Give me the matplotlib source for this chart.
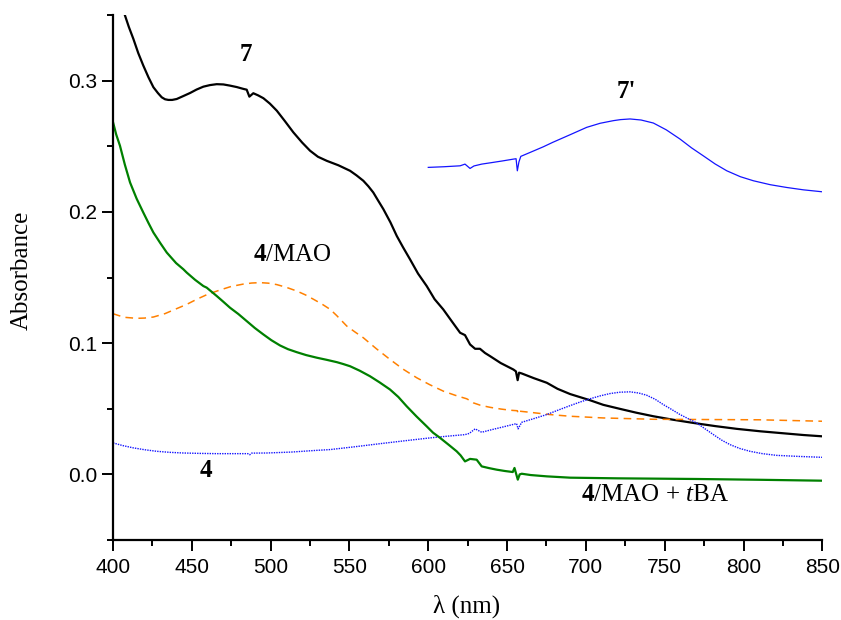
import matplotlib
matplotlib.use("Agg")
import matplotlib.pyplot as plt
from matplotlib.ticker import MultipleLocator

plt.rcParams['mathtext.fontset'] = 'custom'
plt.rcParams['mathtext.rm'] = 'Liberation Serif'
plt.rcParams['mathtext.bf'] = 'Liberation Serif:bold'
plt.rcParams['mathtext.it'] = 'Liberation Serif:italic'

# Spectrum of 7
wl_7 = [400, 404, 407.6, 410, 412.9, 416, 419.2, 422.5, 425.6, 428.5, 430.9, 433, 435.1,
        437.5, 440.4, 444.5, 448.9, 453, 457.3, 461.5, 465.8, 470, 474.2, 478.5, 482.7,
        484.8, 486.5, 489, 492, 495.4, 499.5, 503.9, 509, 514.4, 520, 525, 530, 535.6,
        543, 550.4, 554.5, 558.8, 562, 565.1, 568, 571.5, 576, 580, 584, 588.4, 593.5,
        599, 604, 609.5, 615, 620.2, 623.3, 626.5, 629.7, 632.8, 636, 639.2, 646, 654,
        655.6, 656.7, 657.6, 659.3, 667, 675.2, 682, 690, 702.6, 711, 721.7, 732, 742.8,
        755, 768.2, 782, 795.7, 811, 827.4, 838, 850]
abs_7 = [0.377, 0.362, 0.3496, 0.341, 0.3318, 0.321, 0.3115, 0.3025, 0.295, 0.2905,
         0.2873, 0.2858, 0.2853, 0.2853, 0.286, 0.2882, 0.2906, 0.2932, 0.2954, 0.2966,
         0.2973, 0.2971, 0.2962, 0.2951, 0.2937, 0.2931, 0.2878, 0.2904, 0.2888, 0.2866,
         0.2825, 0.2771, 0.2692, 0.2606, 0.2528, 0.2466, 0.242, 0.2389, 0.2355, 0.2313,
         0.2278, 0.2237, 0.2195, 0.2148, 0.209, 0.2021, 0.192, 0.1817, 0.173, 0.1639,
         0.153, 0.1435, 0.1335, 0.1257, 0.1165, 0.1079, 0.1061, 0.099, 0.0957, 0.0957,
         0.0925, 0.0901, 0.0848, 0.0799, 0.0785, 0.0718, 0.0775, 0.0769, 0.0733, 0.0698,
         0.0652, 0.0612, 0.0565, 0.053, 0.0499, 0.047, 0.0443, 0.0417, 0.0392, 0.0368,
         0.0347, 0.0328, 0.0311, 0.03, 0.029]

# Spectrum of 7'
wl_7p = [600, 610, 620.2, 623.3, 626.5, 629, 633.9, 640, 647, 654, 655.7, 656.5, 657.5,
         658.7, 665, 673, 679, 690, 700.5, 709, 717.4, 722, 728, 735, 742.8, 751, 759.7,
         767, 774.5, 782, 789.4, 798, 806.3, 817, 827.4, 838, 850]
abs_7p = [0.2339, 0.2344, 0.2351, 0.2364, 0.2331, 0.235, 0.2364, 0.2375, 0.2388, 0.2402,
          0.2405, 0.2313, 0.238, 0.2423, 0.2455, 0.2496, 0.253, 0.2588, 0.2644, 0.2675,
          0.2695, 0.2703, 0.2708, 0.27, 0.2677, 0.2625, 0.2555, 0.2488, 0.2427, 0.2365,
          0.2313, 0.2268, 0.2237, 0.2207, 0.2186, 0.2168, 0.2153]

# Spectrum of 4/MAO
wl_4mao = [400, 407, 415, 420, 425.6, 433, 440.4, 446.7, 453.1, 460, 467.9, 475, 482.7,
           488, 493.3, 498.5, 503.9, 510, 516.6, 522, 527.2, 532.5, 537.8, 541.9, 548.3,
           553.5, 558.8, 567, 575.7, 584, 592.7, 601, 609.6, 617, 624.4, 626, 628.6, 633,
           639.2, 646, 651.9, 656.5, 657, 657.6, 664.6, 677, 690, 711.1, 742.8, 774.5, 810,
           850]
abs_4mao = [0.1224, 0.1197, 0.1189, 0.1191, 0.1199, 0.1225, 0.1263, 0.1295, 0.1334,
            0.1372, 0.1405, 0.1432, 0.145, 0.1458, 0.1461, 0.1457, 0.1446, 0.1425, 0.1397,
            0.1368, 0.1334, 0.1298, 0.1257, 0.121, 0.113, 0.1085, 0.1041, 0.0958, 0.0876,
            0.0802, 0.0736, 0.0683, 0.0634, 0.0603, 0.0576, 0.0565, 0.0545, 0.0527, 0.0511,
            0.0498, 0.0489, 0.0485, 0.0462, 0.0482, 0.0473, 0.0456, 0.0443, 0.043, 0.042,
            0.0418, 0.0416, 0.0405]

# Spectrum of 4
wl_4 = [400, 406, 412.9, 420, 427.7, 436, 444.6, 455, 465.8, 476, 485.5, 486.8, 488,
        497.5, 513, 529, 537.7, 553, 569.4, 585, 601.1, 612, 623.3, 626, 629.7, 633.9, 640,
        647.6, 656, 657, 659.3, 667, 675.2, 682, 690, 696, 702.6, 709, 715.3, 721.5, 728,
        733.5, 738.6, 744, 749.1, 754.5, 759.7, 765, 770.3, 775.5, 780.9, 786, 791.4,
        797.5, 804.1, 812, 821, 835, 850]
abs_4 = [0.024, 0.022, 0.0202, 0.0188, 0.0176, 0.0168, 0.0163, 0.016, 0.0158, 0.0158,
         0.0158, 0.015, 0.0162, 0.0163, 0.017, 0.0183, 0.0189, 0.021, 0.0234, 0.0256,
         0.0278, 0.0291, 0.0303, 0.0312, 0.0347, 0.0321, 0.034, 0.0362, 0.0387, 0.0347,
         0.0397, 0.0425, 0.0456, 0.0488, 0.0524, 0.055, 0.0576, 0.0598, 0.0616, 0.0626,
         0.0629, 0.062, 0.0603, 0.0572, 0.0532, 0.0494, 0.0456, 0.0424, 0.0392, 0.0348,
         0.0303, 0.0262, 0.0227, 0.0198, 0.0176, 0.0158, 0.0145, 0.0137, 0.013]

# Spectrum of 4/MAO + tBA
wl_4tba = [400, 402, 404.4, 407.5, 410.8, 415, 419.2, 422.5, 425.6, 430, 434.1, 440,
           444.6, 446.8, 452, 457.3, 459.4, 465.8, 470, 474.2, 479.5, 484.8, 490, 495.4,
           500.5, 506, 511, 516.6, 522.5, 529.3, 535.5, 542, 546, 550.4, 556.5, 563, 569,
           575.7, 581, 586.3, 592.5, 599, 603, 607.5, 612.7, 618, 620.5, 623.3, 626.5,
           630.7, 633.9, 638.5, 643.4, 648.5, 653.6, 654.7, 656.8, 658, 659.3, 665, 675.2,
           690, 720, 770.3, 810, 850]
abs_4tba = [0.2683, 0.259, 0.2504, 0.236, 0.2224, 0.21, 0.1995, 0.1915, 0.1843, 0.1762,
            0.169, 0.161, 0.1563, 0.1537, 0.1483, 0.1435, 0.1423, 0.1359, 0.1315, 0.127,
            0.1222, 0.1168, 0.1115, 0.1066, 0.1022, 0.0982, 0.0954, 0.0931, 0.0909, 0.0889,
            0.0873, 0.0855, 0.0841, 0.0824, 0.079, 0.0748, 0.0702, 0.0647, 0.059, 0.0519,
            0.0442, 0.0366, 0.0318, 0.0278, 0.0228, 0.0176, 0.0145, 0.0099, 0.0118, 0.0112,
            0.0061, 0.0048, 0.0036, 0.0026, 0.0018, 0.0049, -0.004, 0.0, 0.0005, -0.0005,
            -0.0015, -0.0025, -0.003, -0.0035, -0.0041, -0.0048]

x_ticks = [400, 450, 500, 550, 600, 650, 700, 750, 800, 850]
y_ticks = [0.0, 0.1, 0.2, 0.3]

fig = plt.figure(figsize=(8.41, 6.2), dpi=100)
ax = fig.add_axes([0.1344, 0.129, 0.8434, 0.8468])

ax.plot(wl_7, abs_7, color='black', lw=1.6)
ax.plot(wl_7p, abs_7p, color='#1414ff', lw=0.9)
ax.plot(wl_4mao, abs_4mao, color='#ff8000', lw=1.1, ls=(0, (5, 3.5)))
ax.plot(wl_4, abs_4, color='#1414ff', lw=1.0, ls=(0, (1, 0.8)))
ax.plot(wl_4tba, abs_4tba, color='#008000', lw=1.6)

ax.set_xlim(400, 850)
ax.set_ylim(-0.05, 0.35)
ax.set_xticks(x_ticks)
ax.set_yticks(y_ticks)
ax.set_yticklabels([f'{v:.1f}' for v in y_ticks])
ax.xaxis.set_minor_locator(MultipleLocator(25))
ax.yaxis.set_minor_locator(MultipleLocator(0.05))

for side in ('top', 'right'):
    ax.spines[side].set_visible(False)
for side in ('left', 'bottom'):
    ax.spines[side].set_linewidth(1.6)

ax.tick_params(which='major', direction='out', length=8, width=1.4, labelsize=15)
ax.tick_params(axis='x', which='major', pad=5)
ax.tick_params(axis='y', which='major', pad=3.5)
ax.tick_params(which='minor', direction='out', length=4.5, width=1.4)
for lab in ax.get_xticklabels() + ax.get_yticklabels():
    lab.set_fontfamily('Liberation Sans')

serif = 'Liberation Serif'
ax.set_xlabel('λ (nm)', fontsize=18, fontfamily=serif, va='center')
ax.xaxis.set_label_coords(0.499, -0.126)
ax.set_ylabel('Absorbance', fontsize=18, fontfamily=serif, va='center')
ax.yaxis.set_label_coords(-0.128, 0.514)

ax.text(484.1, 0.3196, '7', fontsize=18, fontfamily=serif, fontweight='bold',
        ha='center', va='center')
ax.text(725.5, 0.2918, "7'", fontsize=18, fontfamily=serif, fontweight='bold',
        ha='center', va='center')
ax.text(513.9, 0.1671, r'$\mathbf{4}$/MAO', fontsize=18, fontfamily=serif,
        ha='center', va='center')
ax.text(459, 0.0032, '4', fontsize=18, fontfamily=serif, fontweight='bold',
        ha='center', va='center')
ax.text(743.7, -0.0157, r'$\mathbf{4}$/MAO + $\mathit{t}$BA', fontsize=18,
        fontfamily=serif, ha='center', va='center')

fig.savefig('out.png', dpi=100)
